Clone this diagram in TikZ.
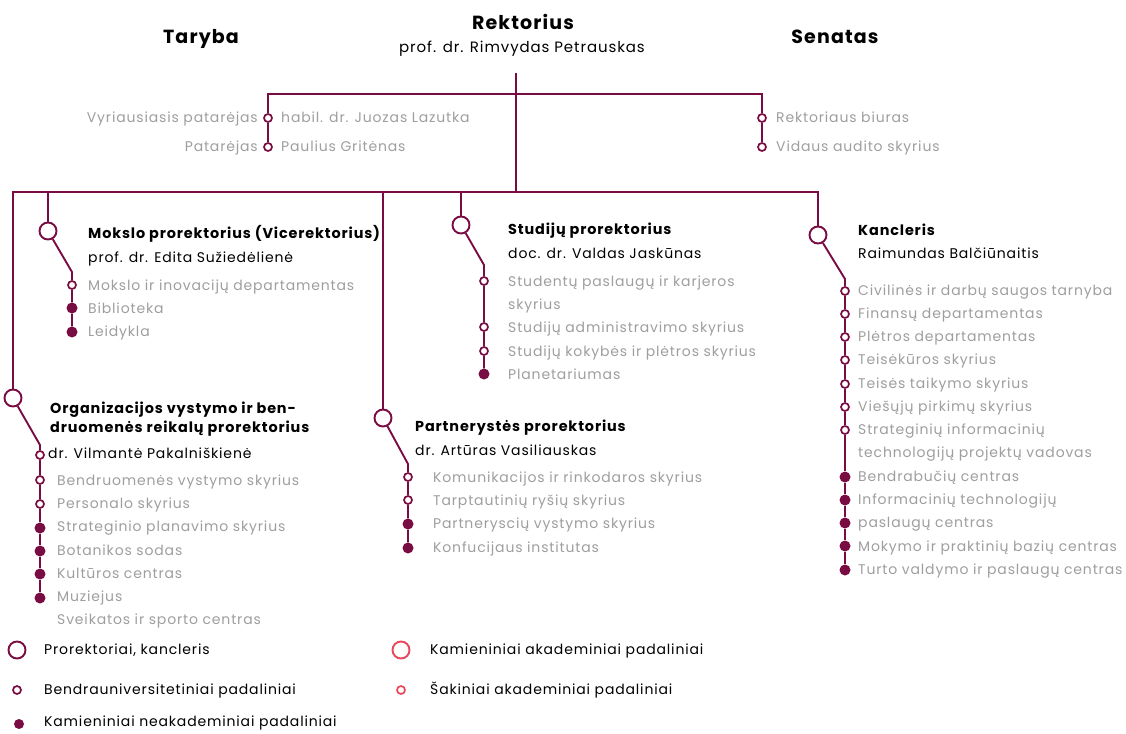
\documentclass[tikz,border=0pt]{standalone}
\usepackage{fontspec}
\setmainfont{Poppins}[LetterSpace=6]
\definecolor{vdu}{RGB}{122,12,68}
\definecolor{pilka}{RGB}{158,158,158}
\definecolor{rausva}{RGB}{232,72,92}
\tikzset{
  linija/.style={draw=vdu, line width=1.9pt},
  didelis/.style={circle, draw=vdu, line width=1.9pt, fill=white, minimum size=17pt, inner sep=0pt},
  mazas/.style={circle, draw=vdu, line width=1.7pt, fill=white, minimum size=8pt, inner sep=0pt},
  pilnas/.style={circle, fill=vdu, minimum size=11pt, inner sep=0pt},
  antraste/.style={anchor=base, inner sep=0pt, font=\fontsize{19}{21}\selectfont\bfseries},
  pareigos/.style={anchor=mid west, yshift=-2pt, inner sep=0pt, font=\fontsize{14.4}{16}\selectfont\bfseries},
  vardas/.style={anchor=mid west, yshift=-2pt, inner sep=0pt, font=\fontsize{14}{16}\selectfont},
  padalinys/.style={anchor=mid west, yshift=-2pt, inner sep=0pt, text=pilka, font=\fontsize{14}{16}\selectfont},
}
\begin{document}
\begin{tikzpicture}[x=1pt,y=-1pt]
    \useasboundingbox (0,0) rectangle (1126,733);

    \node[antraste] (rektorius) at (523,29.5) {Rektorius};
    \node[anchor=base, inner sep=0pt, font=\fontsize{15}{17}\selectfont] (rektoriusv) at (522,53)
      {prof. dr. Rimvydas Petrauskas};
    \node[antraste] (taryba) at (201,44) {Taryba};
    \node[antraste] (senatas) at (835,44) {Senatas};

    \coordinate (r0) at (516,73);
    \coordinate (r2) at (516,192);
    \coordinate (kaire) at (268,94);
    \coordinate (desine) at (762,94);
    \node[mazas] (pat1) at (268,118) {};
    \node[mazas] (pat2) at (268,147) {};
    \node[mazas] (biur1) at (762,118) {};
    \node[mazas] (biur2) at (762,147) {};
    \draw[linija] (r0) -- (r2);
    \draw[linija] (pat1) -- (kaire) -- (desine) -- (biur1);
    \draw[linija] (pat1) -- (pat2);
    \draw[linija] (biur1) -- (biur2);

    \node[padalinys, anchor=mid east] (pat1k) at (258,118) {Vyriausiasis patarėjas};
    \node[padalinys] (pat1d) at (281,118) {habil. dr. Juozas Lazutka};
    \node[padalinys, anchor=mid east] (pat2k) at (258,147) {Patarėjas};
    \node[padalinys] (pat2d) at (281,147) {Paulius Gritėnas};
    \node[padalinys] (biur1t) at (776,118) {Rektoriaus biuras};
    \node[padalinys] (biur2t) at (776,147) {Vidaus audito skyrius};

    % prorektoriai ir kancleris
    \node[didelis] (org) at (13,398) {};
    \node[didelis] (mokslo) at (48,231) {};
    \node[didelis] (partner) at (383,418) {};
    \node[didelis] (studiju) at (461,225) {};
    \node[didelis] (kanc) at (818,235) {};
    \coordinate (bk) at (13,192);
    \coordinate (bd) at (818,192);
    \draw[linija] (org) -- (bk) -- (bd) -- (kanc);
    \draw[linija] (mokslo) -- (mokslo |- bk);
    \draw[linija] (partner) -- (partner |- bk);
    \draw[linija] (studiju) -- (studiju |- bk);

    % Mokslo prorektorius
    \node[pareigos] (moksloP) at (88,234) {Mokslo prorektorius (Vicerektorius)};
    \node[vardas] (moksloV) at (88,258) {prof. dr. Edita Sužiedėlienė};
    \coordinate (mlenk) at (72,272);
    \node[mazas] (m1) at (72,285) {};
    \node[pilnas] (m2) at (72,308) {};
    \node[pilnas] (m3) at (72,332) {};
    \draw[linija] (mokslo) -- (mlenk) -- (m1) -- (m2) -- (m3);
    \foreach \y/\t [count=\i] in {286/Mokslo ir inovacijų departamentas,
                                  309/Biblioteka, 332/Leidykla} {
      \node[padalinys] (mt\i) at (88,\y) {\t};
    }

    % Studiju prorektorius
    \node[pareigos] (studijuP) at (508,230) {Studijų prorektorius};
    \node[vardas] (studijuV) at (508,254) {doc. dr. Valdas Jaskūnas};
    \coordinate (slenk) at (484,265);
    \node[mazas] (s1) at (484,281) {};
    \node[mazas] (s2) at (484,327) {};
    \node[mazas] (s3) at (484,351) {};
    \node[pilnas] (s4) at (484,374) {};
    \draw[linija] (studiju) -- (slenk) -- (s1) -- (s2) -- (s3) -- (s4);
    \foreach \y/\t [count=\i] in {282/Studentų paslaugų ir karjeros, 305/skyrius,
                                  328/Studijų administravimo skyrius,
                                  352/Studijų kokybės ir plėtros skyrius,
                                  375/Planetariumas} {
      \node[padalinys] (st\i) at (508,\y) {\t};
    }

    % Kancleris
    \node[pareigos] (kancP) at (858,231) {Kancleris};
    \node[vardas] (kancV) at (858,254) {Raimundas Balčiūnaitis};
    \coordinate (klenk) at (845,279);
    \foreach \y [count=\i] in {291,314,337,360,384,407,430} {
      \node[mazas] (k\i) at (845,\y) {};
    }
    \foreach \y [count=\i from 8] in {477,500,523,546,570} {
      \node[pilnas] (k\i) at (845,\y) {};
    }
    \draw[linija] (kanc) -- (klenk) -- (k1);
    \foreach \i [remember=\i as \j (initially 1)] in {2,...,12} {
      \draw[linija] (k\j) -- (k\i);
    }
    \foreach \y/\t [count=\i] in {291/Civilinės ir darbų saugos tarnyba,
                                  314/Finansų departamentas, 337/Plėtros departamentas,
                                  360/Teisėkūros skyrius, 384/Teisės taikymo skyrius,
                                  407/Viešųjų pirkimų skyrius, 430/Strateginių informacinių,
                                  453/technologijų projektų vadovas, 477/Bendrabučių centras,
                                  500/Informacinių technologijų, 523/paslaugų centras,
                                  547/Mokymo ir praktinių bazių centras,
                                  570/Turto valdymo ir paslaugų centras} {
      \node[padalinys] (kt\i) at (858,\y) {\t};
    }

    % Organizacijos vystymo prorektorius
    \node[pareigos] (orgP1) at (50,409) {Organizacijos vystymo ir ben-};
    \node[pareigos] (orgP2) at (50,428) {druomenės reikalų prorektorius};
    \node[vardas] (orgV) at (48,454) {dr. Vilmantė Pakalniškienė};
    \coordinate (olenk) at (40,445);
    \foreach \y [count=\i] in {455,480,504} {
      \node[mazas] (o\i) at (40,\y) {};
    }
    \foreach \y [count=\i from 4] in {528,551,574,598} {
      \node[pilnas] (o\i) at (40,\y) {};
    }
    \draw[linija] (org) -- (olenk) -- (o1);
    \foreach \i [remember=\i as \j (initially 1)] in {2,...,7} {
      \draw[linija] (o\j) -- (o\i);
    }
    \foreach \y/\t [count=\i] in {481/Bendruomenės vystymo skyrius, 504/Personalo skyrius,
                                  527/Strateginio planavimo skyrius, 551/Botanikos sodas,
                                  574/Kultūros centras, 597/Muziejus,
                                  620/Sveikatos ir sporto centras} {
      \node[padalinys] (ot\i) at (57,\y) {\t};
    }

    % Partnerystes prorektorius
    \node[pareigos] (partnerP) at (415,427) {Partnerystės prorektorius};
    \node[vardas] (partnerV) at (415,451) {dr. Artūras Vasiliauskas};
    \coordinate (plenk) at (408,464);
    \node[mazas] (p1) at (408,477) {};
    \node[mazas] (p2) at (408,500) {};
    \node[pilnas] (p3) at (408,524) {};
    \node[pilnas] (p4) at (408,548) {};
    \draw[linija] (partner) -- (plenk) -- (p1) -- (p2) -- (p3) -- (p4);
    \foreach \y/\t [count=\i] in {478/Komunikacijos ir rinkodaros skyrius,
                                  501/Tarptautinių ryšių skyrius,
                                  524/Partneryscių vystymo skyrius,
                                  548/Konfucijaus institutas} {
      \node[padalinys] (pt\i) at (433,\y) {\t};
    }

    % legenda
    \node[didelis] (leg1) at (17,650) {};
    \node[mazas] (leg2) at (17,690) {};
    \node[pilnas, minimum size=10pt] (leg3) at (19,724) {};
    \node[didelis, draw=rausva] (leg4) at (401,650) {};
    \node[mazas, draw=rausva] (leg5) at (401,690) {};
    \node[vardas] (leg1t) at (44,650) {Prorektoriai, kancleris};
    \node[vardas] (leg2t) at (44,690) {Bendrauniversitetiniai padaliniai};
    \node[vardas] (leg3t) at (44,722) {Kamieniniai neakademiniai padaliniai};
    \node[vardas] (leg4t) at (430,650) {Kamieniniai akademiniai padaliniai};
    \node[vardas] (leg5t) at (430,690) {Šakiniai akademiniai padaliniai};
\end{tikzpicture}
\end{document}
